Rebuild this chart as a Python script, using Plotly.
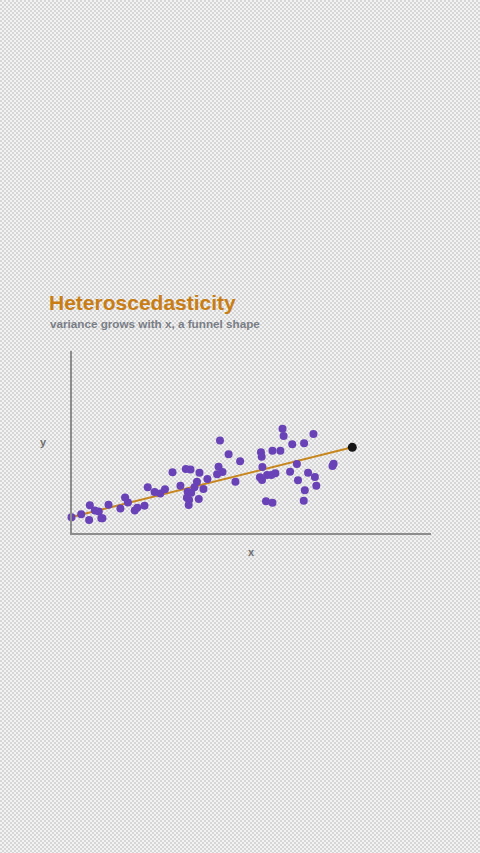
import base64
import plotly.graph_objects as go

# ---- data ----
x_vals = [0.00, 0.27, 0.51, 0.49, 0.65, 0.76, 0.83, 0.86, 1.03, 1.36,
          1.49, 1.57, 1.76, 1.83, 2.03, 2.12, 2.31, 2.47, 2.60, 2.81,
          3.03, 3.18, 3.31, 3.23, 3.33, 3.42, 3.21, 3.27, 3.26, 3.49,
          3.56, 3.54, 3.67, 3.78, 4.05, 4.09, 4.20, 4.13, 4.37, 4.69,
          4.56, 5.27, 5.29, 5.31, 5.24, 5.30, 5.44, 5.56, 5.67, 5.41,
          5.59, 5.59, 5.81, 5.87, 5.90, 6.14, 6.47, 6.73, 6.08, 6.27,
          6.30, 6.58, 6.77, 6.81, 6.49, 6.46, 7.26, 7.29]
y_vals = [0.86, 1.03, 1.52, 0.71, 1.24, 1.18, 0.81, 0.81, 1.55, 1.35,
          1.95, 1.68, 1.23, 1.39, 1.50, 2.51, 2.25, 2.17, 2.40, 3.34,
          2.60, 3.52, 3.49, 2.27, 2.21, 2.51, 1.94, 1.81, 1.54, 2.82,
          3.31, 1.87, 2.42, 2.97, 3.23, 3.64, 3.35, 5.08, 4.33, 3.94,
          2.82, 4.43, 4.19, 3.63, 3.06, 2.91, 3.19, 3.19, 3.28, 1.74,
          1.66, 4.52, 4.52, 5.73, 5.33, 4.87, 4.93, 5.44, 3.37, 3.79,
          2.90, 3.31, 3.08, 2.60, 2.35, 1.77, 3.68, 3.81]
fit_intercept = 0.88
fit_slope = 0.49
fit_x = [0.0, 7.81]
fit_y = [fit_intercept + fit_slope * v for v in fit_x]

title_text = "Heteroscedasticity"
subtitle_text = "variance grows with x, a funnel shape"
x_label = "x"
y_label = "y"

W, H = 480, 853

# checkerboard background
svg = (f'<svg xmlns="http://www.w3.org/2000/svg" width="{W}" height="{H}">'
       '<defs><pattern id="p" width="4" height="4" patternUnits="userSpaceOnUse">'
       '<rect width="4" height="4" fill="#f3f3f3"/>'
       '<rect width="2" height="2" fill="#d6d6d6"/>'
       '<rect x="2" y="2" width="2" height="2" fill="#d6d6d6"/>'
       '</pattern></defs>'
       f'<rect width="{W}" height="{H}" fill="url(#p)"/></svg>')
bg_src = "data:image/svg+xml;base64," + base64.b64encode(svg.encode()).decode()

fig = go.Figure()
fig.add_trace(go.Scatter(x=fit_x, y=fit_y, mode="lines",
                         line=dict(color="#c8861e", width=2),
                         hoverinfo="skip", cliponaxis=False))
fig.add_trace(go.Scatter(x=x_vals, y=y_vals, mode="markers",
                         marker=dict(color="#6a42b8", size=8, line=dict(width=0)),
                         cliponaxis=False))
fig.add_trace(go.Scatter(x=[fit_x[-1]], y=[fit_y[-1]], mode="markers",
                         marker=dict(color="#151515", size=9),
                         cliponaxis=False))

x0, x1 = 71.5, 431
y_top, y_bot = 351, 533

axis_common = dict(showgrid=False, zeroline=False, showticklabels=False,
                   ticks="", showline=True, linecolor="#8c8c8c", linewidth=1.5)
fig.update_layout(
    width=W, height=H,
    margin=dict(l=0, r=0, t=0, b=0),
    paper_bgcolor="#e6e6e6", plot_bgcolor="rgba(0,0,0,0)",
    showlegend=False,
    xaxis=dict(domain=[x0 / W, x1 / W], range=[0, 10], **axis_common),
    yaxis=dict(domain=[(H - y_bot) / H, (H - y_top) / H], range=[0, 10], **axis_common),
    images=[dict(source=bg_src, xref="paper", yref="paper", x=0, y=1,
                 sizex=1, sizey=1, xanchor="left", yanchor="top",
                 sizing="stretch", layer="below")],
    annotations=[
        dict(text=f"<b>{title_text}</b>", xref="paper", yref="paper",
             x=47 / W, y=1 - 302 / H, xanchor="left", yanchor="middle",
             showarrow=False, font=dict(family="Liberation Sans, Arial", size=21, color="#c97d12")),
        dict(text=f"<b>{subtitle_text}</b>", xref="paper", yref="paper",
             x=48 / W, y=1 - 323 / H, xanchor="left", yanchor="middle",
             showarrow=False, font=dict(family="Liberation Sans, Arial", size=11.7, color="#7a7e86")),
        dict(text=f"<b>{y_label}</b>", xref="paper", yref="paper",
             x=43 / W, y=1 - 442 / H, xanchor="center", yanchor="middle",
             showarrow=False, font=dict(family="Liberation Sans, Arial", size=11, color="#6e6e6e")),
        dict(text=f"<b>{x_label}</b>", xref="paper", yref="paper",
             x=251 / W, y=1 - 552 / H, xanchor="center", yanchor="middle",
             showarrow=False, font=dict(family="Liberation Sans, Arial", size=11, color="#6e6e6e")),
    ],
)

fig.write_html("out.html", config=dict(displayModeBar=False))
